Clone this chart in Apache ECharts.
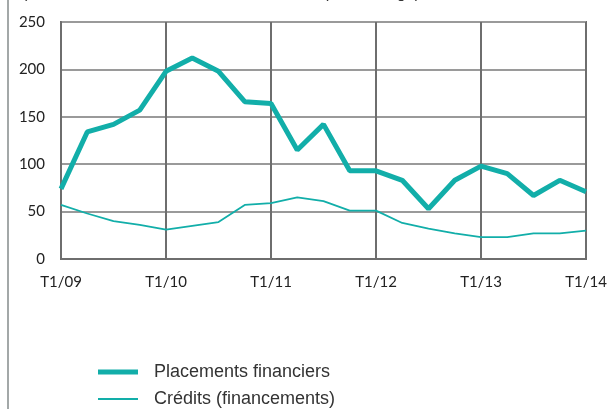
<!DOCTYPE html>
<html>
<head>
<meta charset="utf-8">
<script src="https://cdn.jsdelivr.net/npm/echarts@6/dist/echarts.min.js"></script>
<style>
  html, body { margin: 0; padding: 0; background: #fff; }
  #chart { width: 612px; height: 409px; }
</style>
</head>
<body>
<div id="chart"></div>
<script>
// trimestres T1/09 .. T1/14
const quarters = [
  'T1/09', 'T2/09', 'T3/09', 'T4/09',
  'T1/10', 'T2/10', 'T3/10', 'T4/10',
  'T1/11', 'T2/11', 'T3/11', 'T4/11',
  'T1/12', 'T2/12', 'T3/12', 'T4/12',
  'T1/13', 'T2/13', 'T3/13', 'T4/13',
  'T1/14'
];
const placements = [74, 134, 142, 157, 198, 212, 198, 166, 164, 115, 142, 93, 93, 83, 53, 83, 98, 90, 67, 83, 71];
const credits = [57, 48, 40, 36, 31, 35, 39, 57, 59, 65, 61, 51, 51, 38, 32, 27, 23, 23, 27, 27, 30];
const yTicks = [0, 50, 100, 150, 200, 250];

const teal = '#12aea9';
const dark = '#6e6e6e';

const legendText = { fontFamily: 'Liberation Sans', fontSize: 18, color: '#333', padding: [0, 0, 0, 11] };

let myChart = echarts.init(document.getElementById('chart'));
myChart.setOption({
  animation: false,
  graphic: [
    { type: 'rect', left: 7, top: 0, shape: { width: 2, height: 409 }, style: { fill: '#a3a8a8' } },
    { type: 'text', left: 22, top: -14,
      style: { text: "(en milliards d'euros, variation annuelle en pourcentage)", font: '16px "Liberation Sans"', fill: '#333' } }
  ],
  grid: {
    left: 61, right: 26, top: 22, bottom: 150,
    show: true, borderColor: dark, borderWidth: 2
  },
  legend: [
    {
      left: 93, top: 358,
      itemWidth: 40, itemHeight: 5, icon: 'rect',
      textStyle: legendText,
      data: ['Placements financiers']
    },
    {
      left: 93, top: 385,
      itemWidth: 40, itemHeight: 2, icon: 'rect',
      textStyle: legendText,
      data: ['Crédits (financements)']
    }
  ],
  xAxis: {
    type: 'category',
    data: quarters,
    boundaryGap: false,
    axisLine: { lineStyle: { color: dark, width: 2 } },
    axisTick: { show: false },
    axisLabel: {
      interval: 3, margin: 16,
      fontFamily: 'Lato', fontSize: 15, color: '#222'
    },
    splitLine: { show: true, interval: 3, lineStyle: { color: dark, width: 2 } }
  },
  yAxis: {
    type: 'value',
    min: 0, max: 250, interval: 50,
    axisLine: { show: true, lineStyle: { color: dark, width: 2 } },
    axisTick: { show: false },
    axisLabel: {
      margin: 16, fontFamily: 'Lato', fontSize: 15, color: '#222',
      formatter: function (v) { return yTicks.indexOf(v) >= 0 ? String(v) : ''; }
    },
    splitLine: { lineStyle: { color: '#9a9a9a', width: 2 } }
  },
  series: [
    {
      name: 'Placements financiers',
      type: 'line',
      data: placements,
      symbol: 'none',
      lineStyle: { color: teal, width: 5 },
      itemStyle: { color: teal }
    },
    {
      name: 'Crédits (financements)',
      type: 'line',
      data: credits,
      symbol: 'none',
      lineStyle: { color: teal, width: 1.8 },
      itemStyle: { color: teal }
    }
  ]
});
</script>
</body>
</html>
